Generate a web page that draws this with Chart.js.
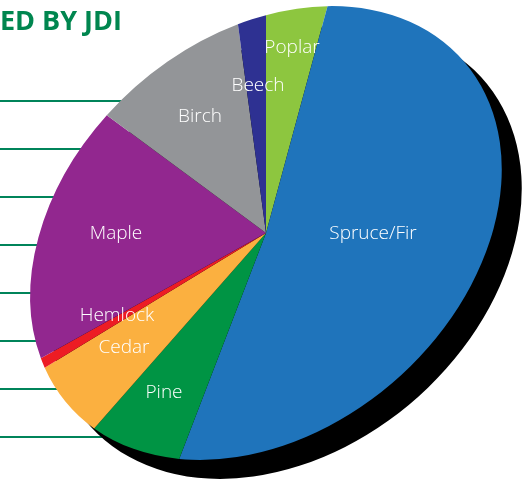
<!DOCTYPE html>
<html>
<head>
<meta charset="utf-8">
<script src="https://cdn.jsdelivr.net/npm/chart.js@4.4.1/dist/chart.umd.min.js"></script>
<style>
  html, body { margin: 0; padding: 0; background: #fff; overflow: hidden; }
  canvas { display: block; }
</style>
</head>
<body>
<canvas id="speciesChart" width="523" height="481"></canvas>
<script>
// Species share of harvest (percent)
const species = ["Poplar", "Spruce/Fir", "Pine", "Cedar", "Hemlock", "Maple", "Birch", "Beech"];
const shares = [4.2, 51.8, 7.0, 6.4, 0.8, 18.0, 9.9, 1.9];
const sliceColors = ["#8dc63f", "#1f74bb", "#009444", "#fbb040", "#ed1c24", "#92278f", "#939598", "#2e3192"];

// where each label sits, px from the pie centre
const labelOffsets = [[26, -185], [107, 1], [-102, 160], [-142, 115], [-149, 83], [-150, 1], [-66, -116], [-8, -147]];

// pie is drawn as a tilted ellipse (skewed artwork in the original)
const PIE_CX = 266, PIE_CY = 233;
const AXIS_MAJOR = 262, AXIS_MINOR = 196, AXIS_ANGLE = -41.1 * Math.PI / 180;
const SHADOW_DX = 20, SHADOW_DY = 19;

function ellipseMatrix(radius) {
    const c = Math.cos(AXIS_ANGLE), s = Math.sin(AXIS_ANGLE);
    const sa = AXIS_MAJOR / radius, sb = AXIS_MINOR / radius;
    const m11 = sa * c * c + sb * s * s;
    const m12 = (sa - sb) * c * s;
    const m22 = sa * s * s + sb * c * c;
    return [m11, m12, m12, m22];
}

const backdropPlugin = {
    id: "backdrop",
    beforeDatasetsDraw(chart) {
        const ctx = chart.ctx;
        const arc = chart.getDatasetMeta(0).data[0];
        const m = ellipseMatrix(arc.outerRadius);

        // title fragment (cropped on the left)
        ctx.save();
        ctx.fillStyle = "#00864f";
        ctx.font = "bold 27px 'Open Sans', sans-serif";
        ctx.textBaseline = "alphabetic";
        ctx.fillText("ED BY JDI", 0, 30);

        // table rules running under the pie
        ctx.fillStyle = "#00845a";
        for (let i = 0; i < 8; i++) {
            ctx.fillRect(0, 100 + i * 48, 260, 2);
        }
        ctx.restore();

        // drop shadow
        ctx.save();
        ctx.translate(PIE_CX + SHADOW_DX, PIE_CY + SHADOW_DY);
        ctx.transform(m[0], m[1], m[2], m[3], 0, 0);
        ctx.beginPath();
        ctx.arc(0, 0, arc.outerRadius, 0, Math.PI * 2);
        ctx.fillStyle = "#000";
        ctx.fill();
        ctx.restore();

        // squash the pie itself
        ctx.save();
        ctx.translate(PIE_CX, PIE_CY);
        ctx.transform(m[0], m[1], m[2], m[3], 0, 0);
        ctx.translate(-arc.x, -arc.y);
    },
    afterDatasetsDraw(chart) {
        const ctx = chart.ctx;
        ctx.restore();

        ctx.save();
        ctx.fillStyle = "#ffffff";
        ctx.font = "300 19px 'Open Sans', sans-serif";
        ctx.textAlign = "center";
        ctx.textBaseline = "middle";
        species.forEach((name, i) => {
            ctx.fillText(name, PIE_CX + labelOffsets[i][0], PIE_CY + labelOffsets[i][1]);
        });
        ctx.restore();
    }
};

const ctxSpecies = document.getElementById("speciesChart").getContext("2d");
new Chart(ctxSpecies, {
    type: "pie",
    data: {
        labels: species,
        datasets: [{
            data: shares,
            backgroundColor: sliceColors,
            borderWidth: 0,
            hoverOffset: 0
        }]
    },
    options: {
        responsive: false,
        animation: false,
        rotation: -7.97,
        layout: { padding: 0 },
        plugins: {
            legend: { display: false },
            tooltip: { enabled: false }
        }
    },
    plugins: [backdropPlugin]
});
</script>
</body>
</html>
